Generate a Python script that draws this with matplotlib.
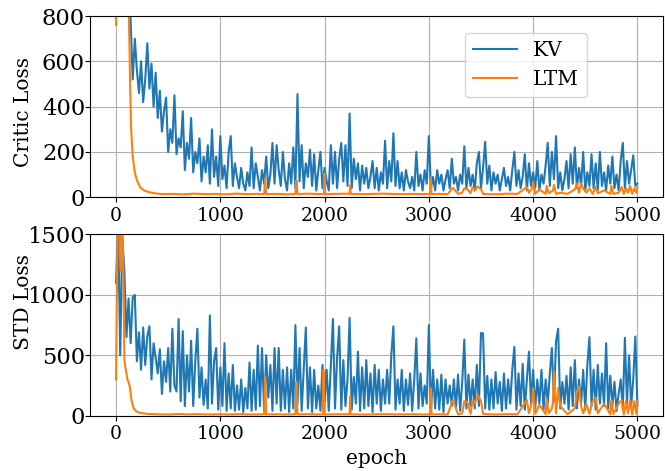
import numpy as np
import matplotlib
matplotlib.use("Agg")
import matplotlib.pyplot as plt

plt.rcParams['font.family'] = 'DejaVu Serif'
plt.rcParams['font.size'] = 14.5

# KV critic loss, one value every 20 epochs (one row = 200 epochs)
kv_critic = [
    1600, 1550, 1500, 1400, 1300, 1150, 1000, 780, 520, 700,
    560, 460, 600, 420, 520, 680, 480, 590, 400, 550,
    350, 470, 290, 380, 440, 200, 300, 240, 450, 190,
    260, 220, 380, 120, 240, 170, 350, 110, 200, 150,
    260, 70, 180, 110, 230, 60, 300, 90, 180, 50,
    270, 80, 140, 40, 200, 270, 50, 150, 90, 40,
    130, 60, 30, 110, 50, 220, 40, 150, 90, 30,
    120, 60, 180, 40, 100, 240, 60, 230, 120, 50,
    200, 80, 30, 150, 60, 220, 40, 455, 70, 230,
    40, 150, 90, 210, 50, 190, 30, 120, 200, 40,
    130, 70, 30, 230, 60, 200, 40, 170, 240, 70,
    230, 50, 370, 40, 170, 80, 150, 30, 140, 60,
    130, 40, 90, 160, 40, 130, 30, 110, 60, 250,
    40, 160, 70, 283, 50, 160, 40, 110, 30, 120,
    70, 40, 90, 30, 200, 50, 100, 30, 120, 60,
    270, 40, 90, 30, 120, 60, 100, 30, 80, 120,
    40, 170, 60, 90, 30, 100, 60, 225, 40, 130,
    50, 100, 30, 150, 200, 40, 130, 245, 60, 140,
    30, 110, 60, 100, 30, 80, 130, 50, 90, 30,
    120, 200, 50, 120, 40, 90, 190, 30, 150, 50,
    110, 40, 160, 30, 100, 60, 140, 240, 50, 200,
    80, 270, 40, 110, 30, 80, 160, 40, 190, 60,
    220, 40, 130, 50, 200, 30, 110, 50, 190, 40,
    150, 30, 200, 50, 110, 30, 140, 60, 180, 40,
    100, 30, 160, 240, 40, 160, 60, 120, 185, 50,
    60,
]

# KV STD loss, one value every 20 epochs
kv_std = [
    1100, 1600, 500, 1480, 1200, 650, 970, 600, 980, 1000,
    450, 690, 380, 730, 420, 660, 740, 300, 600, 480,
    350, 550, 180, 450, 280, 560, 200, 720, 250, 200,
    800, 120, 700, 80, 500, 200, 620, 80, 450, 720,
    150, 400, 90, 300, 60, 830, 100, 450, 560, 50,
    400, 80, 600, 40, 350, 60, 420, 40, 250, 50,
    300, 30, 230, 60, 440, 40, 380, 50, 580, 80,
    560, 40, 500, 150, 420, 40, 560, 100, 560, 40,
    380, 60, 400, 30, 380, 60, 750, 100, 560, 40,
    380, 730, 60, 400, 30, 380, 60, 250, 40, 420,
    120, 380, 40, 420, 800, 60, 480, 740, 50, 460,
    80, 300, 810, 50, 320, 100, 530, 40, 400, 60,
    460, 80, 350, 30, 420, 100, 380, 40, 300, 100,
    380, 100, 500, 740, 50, 300, 100, 380, 40, 300,
    90, 350, 40, 300, 640, 60, 350, 80, 250, 100,
    750, 30, 380, 60, 300, 50, 340, 30, 300, 100,
    250, 80, 300, 60, 340, 40, 280, 630, 60, 340,
    80, 300, 60, 420, 80, 685, 680, 60, 330, 50,
    300, 60, 360, 100, 280, 40, 350, 60, 300, 100,
    380, 570, 50, 350, 80, 430, 50, 300, 530, 100,
    380, 60, 300, 100, 380, 50, 300, 100, 350, 560,
    120, 620, 720, 60, 280, 100, 330, 50, 400, 80,
    460, 60, 300, 100, 380, 50, 420, 650, 80, 380,
    50, 420, 100, 350, 80, 600, 60, 330, 80, 280,
    40, 180, 300, 60, 645, 100, 500, 80, 300, 655,
    80,
]

# LTM critic loss (irregular epochs to keep the narrow spikes)
ltm_critic_epochs = [
    0, 10, 120, 135, 145, 160, 180, 200, 230, 270, 320, 380, 450,
    550, 650, 750, 850, 950, 1050, 1150, 1250, 1350, 1420, 1430, 1440,
    1550, 1650, 1720, 1730, 1740, 1850, 1950, 1995, 2000, 2005, 2100,
    2240, 2245, 2250, 2400, 2550, 2700, 2850, 2950, 3015, 3020, 3025,
    3100, 3180, 3230, 3280, 3320, 3340, 3370, 3400, 3420, 3440, 3470,
    3500, 3520, 3560, 3650, 3750, 3850, 3940, 3960, 3990, 4000, 4020,
    4060, 4120, 4130, 4150, 4190, 4200, 4220, 4260, 4330, 4400, 4420,
    4440, 4460, 4480, 4510, 4540, 4570, 4600, 4620, 4680, 4740, 4750,
    4770, 4820, 4850, 4870, 4890, 4910, 4930, 4950, 4970, 4990, 5000,
]
ltm_critic = [
    760, 1200, 900, 500, 300, 180, 110, 75, 45, 30, 22, 17, 14,
    15, 13, 16, 14, 15, 13, 16, 14, 15, 14, 83, 14,
    15, 13, 15, 75, 14, 16, 14, 15, 105, 14, 15,
    16, 53, 15, 14, 16, 14, 15, 14, 15, 85, 14,
    15, 14, 42, 15, 20, 40, 35, 18, 45, 30, 48,
    35, 15, 14, 13, 16, 15, 45, 20, 40, 68, 15,
    35, 15, 50, 18, 30, 55, 15, 20, 15, 35, 60,
    20, 62, 40, 20, 40, 15, 45, 18, 30, 15, 50,
    15, 20, 45, 15, 40, 20, 50, 15, 40, 20, 45,
]

# LTM STD loss
ltm_std_epochs = [
    0, 15, 30, 45, 60, 70, 80, 90, 110, 130, 150, 170, 190, 220, 260, 300,
    400, 500, 600, 700, 800, 900, 1000, 1100, 1200, 1300, 1420, 1430, 1440,
    1550, 1650, 1720, 1730, 1740, 1850, 1950, 1985, 1990, 1995, 2100,
    2240, 2245, 2250, 2400, 2550, 2700, 2850, 2950, 3015, 3020, 3025,
    3100, 3180, 3230, 3280, 3320, 3340, 3370, 3400, 3420, 3440, 3470,
    3500, 3520, 3560, 3650, 3750, 3850, 3940, 3960, 3990, 4000, 4020,
    4060, 4120, 4130, 4150, 4180, 4190, 4200, 4220, 4240, 4260, 4330,
    4400, 4420, 4440, 4460, 4480, 4510, 4540, 4570, 4600, 4620, 4680,
    4740, 4750, 4770, 4820, 4850, 4870, 4890, 4910, 4930, 4950, 4970,
    4990, 5000,
]
ltm_std = [
    300, 1600, 1700, 1200, 1600, 1200, 460, 400, 300, 250, 120, 60, 40, 25, 20, 15,
    12, 10, 14, 11, 13, 10, 12, 11, 13, 10, 12, 320, 11,
    12, 10, 12, 280, 11, 13, 10, 12, 377, 11, 12,
    12, 157, 11, 10, 13, 11, 12, 10, 12, 228, 11,
    12, 10, 130, 12, 20, 120, 110, 15, 130, 100, 170,
    120, 15, 12, 10, 13, 12, 130, 20, 120, 228, 15,
    90, 12, 140, 20, 60, 110, 372, 20, 230, 80, 12,
    60, 200, 240, 80, 20, 100, 15, 120, 150, 20, 100,
    12, 130, 15, 100, 130, 10, 120, 20, 130, 10, 120,
    15, 120,
]

kv_critic_epochs = np.arange(len(kv_critic)) * 20
kv_std_epochs = np.arange(len(kv_std)) * 20

fig, (ax1, ax2) = plt.subplots(2, 1, figsize=(6.65, 4.71), dpi=100)
fig.subplots_adjust(left=0.1353, right=0.9977, top=0.966, bottom=0.1174, hspace=0.205)

ax1.plot(kv_critic_epochs, kv_critic, color='tab:blue', label='KV')
ax1.plot(ltm_critic_epochs, ltm_critic, color='tab:orange', label='LTM')
ax1.set_ylim(0, 800)
ax1.set_yticks([0, 200, 400, 600, 800])
ax1.set_ylabel('Critic Loss')
ax1.yaxis.set_label_coords(-0.1, 0.47)
ax1.grid(True)
ax1.legend(loc='upper right', bbox_to_anchor=(0.867, 0.906), borderaxespad=0,
           fontsize=14.5, handlelength=2.2)

ax2.plot(kv_std_epochs, kv_std, color='tab:blue')
ax2.plot(ltm_std_epochs, ltm_std, color='tab:orange')
ax2.set_ylim(0, 1500)
ax2.set_yticks([0, 500, 1000, 1500])
ax2.set_ylabel('STD Loss')
ax2.yaxis.set_label_coords(-0.1, 0.628)
ax2.set_xlabel('epoch')
ax2.grid(True)

for ax in (ax1, ax2):
    ax.set_xticks([0, 1000, 2000, 3000, 4000, 5000])
    ax.tick_params(axis='x', labelsize=13.5)
    ax.tick_params(axis='y', labelsize=16.3, pad=0)

plt.savefig('out.png', dpi=100)
